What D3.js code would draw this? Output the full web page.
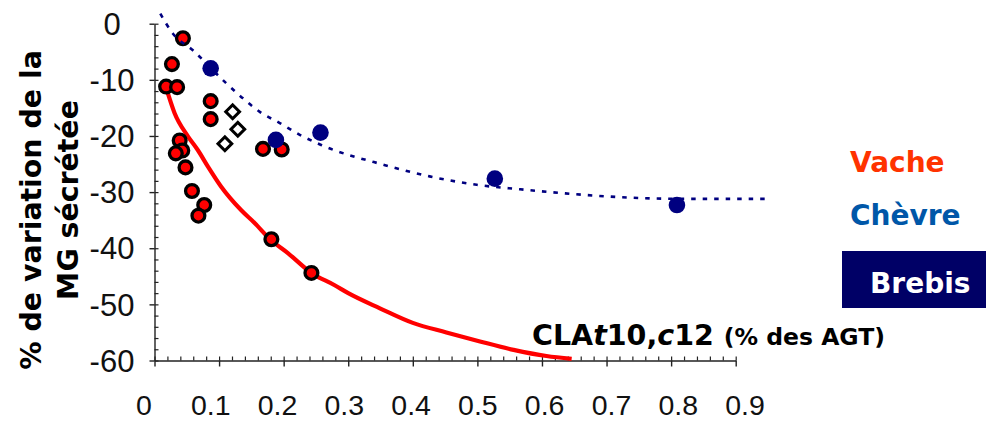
<!DOCTYPE html>
<html>
<head>
<meta charset="utf-8">
<style>
  body { margin: 0; background: #fff; }
  svg { display: block; }
</style>
</head>
<body>
<svg id="chart" width="986" height="421"></svg>
<script src="https://cdn.jsdelivr.net/npm/d3@7/dist/d3.min.js"></script>
<script>
// vache (red points)
var vacheX = [0.044, 0.027, 0.018, 0.035, 0.087, 0.087, 0.039, 0.043, 0.033, 0.048, 0.058, 0.077, 0.068, 0.168, 0.197, 0.181, 0.243];
var vacheY = [-2.6, -7.2, -11.2, -11.3, -13.8, -17.0, -20.8, -22.6, -23.1, -25.6, -29.8, -32.3, -34.2, -22.3, -22.4, -38.4, -44.4];
// chèvre (open diamonds)
var chevreX = [0.121, 0.129, 0.109];
var chevreY = [-15.7, -18.8, -21.4];
// brebis (navy points)
var brebisX = [0.087, 0.188, 0.257, 0.527, 0.809];
var brebisY = [-7.95, -20.7, -19.4, -27.6, -32.3];

// trend curves
var vacheCurveX = [0.018, 0.031, 0.052, 0.067, 0.083, 0.103, 0.134, 0.155, 0.179, 0.207, 0.243, 0.279, 0.300, 0.349, 0.400, 0.452, 0.504, 0.556, 0.607, 0.646];
var vacheCurveY = [-11.4, -15.9, -20.1, -22.5, -25.5, -29.0, -33.2, -35.5, -38.4, -40.9, -44.4, -46.6, -48.0, -50.7, -53.3, -55.0, -56.6, -58.1, -59.2, -59.7];
var brebisCurveX = [0.009, 0.028, 0.059, 0.111, 0.137, 0.163, 0.194, 0.225, 0.258, 0.357, 0.426, 0.499, 0.566, 0.633, 0.721, 0.814, 0.948];
var brebisCurveY = [1.8, -1.7, -4.7, -10.6, -13.3, -15.7, -17.7, -19.8, -21.6, -25.2, -27.2, -28.7, -29.5, -30.2, -30.9, -31.2, -31.2];

var xTicks = [0, 0.1, 0.2, 0.3, 0.4, 0.5, 0.6, 0.7, 0.8, 0.9];
var xTickLabels = ["0", "0.1", "0.2", "0.3", "0.4", "0.5", "0.6", "0.7", "0.8", "0.9"];
var yTicks = [0, -10, -20, -30, -40, -50, -60];
var yTickLabels = ["0", "-10", "-20", "-30", "-40", "-50", "-60"];
var legendNames = ["Vache", "Chèvre", "Brebis"];

var svg = d3.select("#chart");

var x = d3.scaleLinear().domain([0, 0.9]).range([154.5, 735.7]);
var y = d3.scaleLinear().domain([0, -60]).range([23.7, 360.5]);
// tick labels in the picture are spread a little wider than the ticks
var xLab = d3.scaleLinear().domain([0, 0.9]).range([144, 745]);

// minor tick values
var xMinor = d3.range(0, 46).map(function(i){ return i * 0.02; });
var yMinor = d3.range(0, 31).map(function(i){ return -i * 2; });

// y axis: majors cross the line, minors inside
svg.append("g").attr("transform", "translate(" + x(0) + ",0)")
  .call(d3.axisLeft(y).tickValues(yTicks).tickSizeInner(5).tickSizeOuter(0).tickFormat(""))
  .call(function(g){ g.selectAll("path,line").attr("stroke", "#222").attr("stroke-width", 1.4); });
svg.append("g").attr("transform", "translate(" + x(0) + ",0)")
  .call(d3.axisRight(y).tickValues(yMinor).tickSizeInner(4).tickSizeOuter(0).tickFormat(""))
  .call(function(g){ g.select(".domain").remove(); g.selectAll("line").attr("stroke", "#222").attr("stroke-width", 1.2); });

// x axis
svg.append("g").attr("transform", "translate(0," + y(-60) + ")")
  .call(d3.axisBottom(x).tickValues(xTicks).tickSizeInner(6).tickSizeOuter(0).tickFormat(""))
  .call(function(g){ g.selectAll("path,line").attr("stroke", "#222").attr("stroke-width", 1.4); });
svg.append("g").attr("transform", "translate(0," + y(-60) + ")")
  .call(d3.axisTop(x).tickValues(xMinor).tickSizeInner(4).tickSizeOuter(0).tickFormat(""))
  .call(function(g){ g.select(".domain").remove(); g.selectAll("line").attr("stroke", "#222").attr("stroke-width", 1.2); });

// tick labels
svg.append("g").selectAll("text").data(yTicks).enter().append("text")
  .attr("x", 112)
  .attr("y", function(d){ return y(d); })
  .attr("dy", "0.36em")
  .attr("text-anchor", "middle")
  .attr("font-family", "'Liberation Sans', Arial, sans-serif")
  .attr("font-size", "31px")
  .attr("fill", "#111")
  .text(function(d, i){ return yTickLabels[i]; });

svg.append("g").selectAll("text").data(xTicks).enter().append("text")
  .attr("x", function(d){ return xLab(d); })
  .attr("y", 415)
  .attr("text-anchor", "middle")
  .attr("font-family", "'Liberation Sans', Arial, sans-serif")
  .attr("font-size", "28.5px")
  .attr("fill", "#111")
  .text(function(d, i){ return xTickLabels[i]; });

// curves
var trendLine = d3.line()
  .x(function(d){ return x(d[0]); })
  .y(function(d){ return y(d[1]); })
  .curve(d3.curveMonotoneX);

svg.append("path")
  .datum(d3.zip(vacheCurveX, vacheCurveY))
  .attr("d", trendLine)
  .attr("fill", "none")
  .attr("stroke", "#ff0000")
  .attr("stroke-width", 4.2);

// vache points
svg.append("g").selectAll("circle").data(d3.zip(vacheX, vacheY)).enter().append("circle")
  .attr("cx", function(d){ return x(d[0]); })
  .attr("cy", function(d){ return y(d[1]); })
  .attr("r", 6.4)
  .attr("fill", "#ff0000")
  .attr("stroke", "#000")
  .attr("stroke-width", 3.3);

// chèvre diamonds
var diamond = d3.symbol().type(d3.symbolSquare).size(95);
svg.append("g").selectAll("path").data(d3.zip(chevreX, chevreY)).enter().append("path")
  .attr("d", diamond)
  .attr("transform", function(d){ return "translate(" + x(d[0]) + "," + y(d[1]) + ") rotate(45)"; })
  .attr("fill", "#fff")
  .attr("stroke", "#000")
  .attr("stroke-width", 3);

// brebis dotted curve
svg.append("path")
  .datum(d3.zip(brebisCurveX, brebisCurveY))
  .attr("d", trendLine)
  .attr("fill", "none")
  .attr("stroke", "#000080")
  .attr("stroke-width", 2.6)
  .attr("stroke-dasharray", "4.5,7");

svg.append("g").selectAll("circle").data(d3.zip(brebisX, brebisY)).enter().append("circle")
  .attr("cx", function(d){ return x(d[0]); })
  .attr("cy", function(d){ return y(d[1]); })
  .attr("r", 8.3)
  .attr("fill", "#000080");

// y axis title
var yTitle = svg.append("g").attr("font-family", "'DejaVu Sans', Verdana, sans-serif")
  .attr("font-weight", "bold").attr("font-size", "28.4px").attr("fill", "#000")
  .attr("text-anchor", "middle");
yTitle.append("text").attr("transform", "translate(41,210) rotate(-90)").text("% de variation de la");
yTitle.append("text").attr("transform", "translate(78,200) rotate(-90)").text("MG sécrétée");

// x axis title
var xTitle = svg.append("text")
  .attr("x", 532).attr("y", 345)
  .attr("font-family", "'DejaVu Sans', Verdana, sans-serif")
  .attr("font-weight", "bold")
  .attr("font-size", "28.5px")
  .attr("fill", "#000");
xTitle.append("tspan").text("CLA");
xTitle.append("tspan").attr("font-style", "italic").text("t");
xTitle.append("tspan").text("10,");
xTitle.append("tspan").attr("font-style", "italic").text("c");
xTitle.append("tspan").text("12 ");
xTitle.append("tspan").attr("font-size", "23.5px").text("(% des AGT)");

// legend
var legend = svg.append("g").attr("font-family", "'DejaVu Sans', Verdana, sans-serif")
  .attr("font-weight", "bold").attr("font-size", "28px");
legend.append("text").attr("x", 850).attr("y", 172).attr("fill", "#ff3300").text(legendNames[0]);
legend.append("text").attr("x", 850).attr("y", 225).attr("fill", "#0057a8").text(legendNames[1]);
legend.append("rect").attr("x", 842).attr("y", 251).attr("width", 144).attr("height", 57).attr("fill", "#000066");
legend.append("text").attr("x", 870).attr("y", 293).attr("fill", "#fff").text(legendNames[2]);
</script>
</body>
</html>
